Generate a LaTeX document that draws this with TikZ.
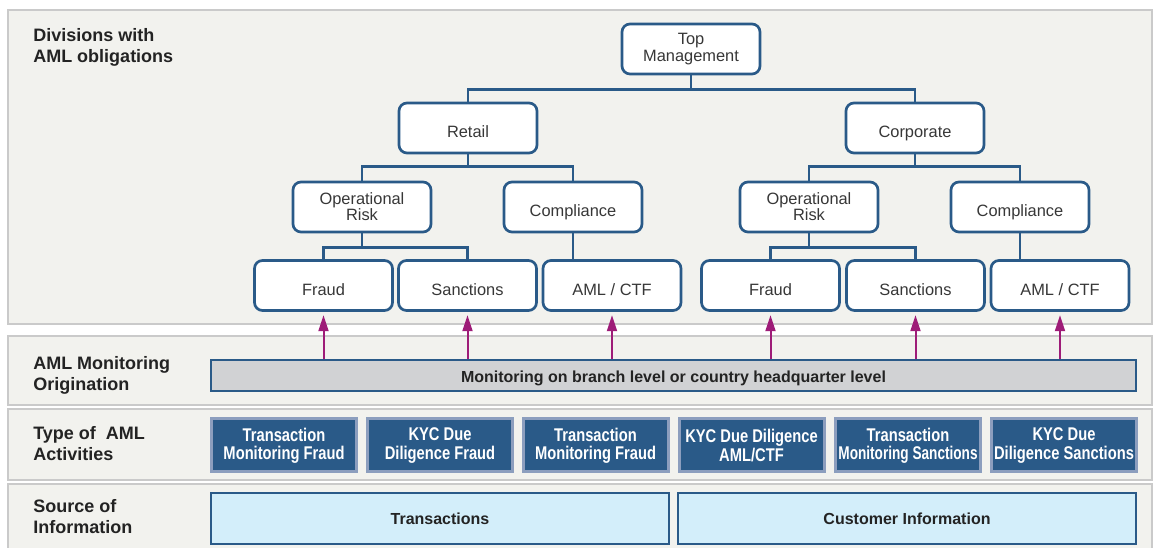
\documentclass[tikz,border=0pt]{standalone}
\usepackage{fontspec}
\setmainfont{Liberation Sans}
\newfontfamily\condfont{Liberation Sans}[FakeStretch=0.8]
\newfontfamily\condfontx{Liberation Sans}[FakeStretch=0.74]
\usetikzlibrary{arrows.meta}

\definecolor{navy}{RGB}{42,90,136}
\definecolor{panelfill}{RGB}{242,242,238}
\definecolor{panelline}{RGB}{202,202,202}
\definecolor{arrowmag}{RGB}{158,28,120}
\definecolor{barfill}{RGB}{209,210,212}
\definecolor{skyfill}{RGB}{211,238,250}
\definecolor{actline}{RGB}{140,158,190}
\definecolor{labeltxt}{RGB}{35,35,35}
\definecolor{boxtxt}{RGB}{55,55,55}

\begin{document}
\begin{tikzpicture}[x=0.75pt,y=-0.75pt,
  panel/.style={draw=panelline,fill=panelfill,line width=1.5pt},
  rowlabel/.style={anchor=west,align=left,inner sep=0pt,text=labeltxt,
    font=\fontsize{13.5}{15.4}\selectfont\bfseries},
  org/.style={draw=navy,fill=white,line width=2pt,rounded corners=6pt,
    minimum width=103.5pt,minimum height=37.5pt,inner sep=0pt,align=center,
    text=boxtxt,font=\fontsize{12.3}{12.2}\selectfont},
  oneline/.style={org,text height=15pt,text depth=0pt},
  link/.style={draw=navy,line width=1.9pt},
  arr/.style={draw=arrowmag,line width=1.5pt,shorten >=2.5pt,
    -{Triangle[length=12pt,width=7.5pt]}},
  bar/.style={draw=navy,fill=barfill,line width=1.5pt,minimum width=693.75pt,
    minimum height=23.25pt,inner sep=0pt,text=labeltxt,text height=10pt,text depth=0pt,
    font=\fontsize{12}{14}\selectfont\bfseries},
  activity/.style={draw=actline,fill=navy,line width=2.25pt,minimum width=108.75pt,
    minimum height=39.75pt,inner sep=0pt,align=center,text=white,
    font=\fontsize{13.8}{13.7}\selectfont\condfont\bfseries},
  source/.style={draw=navy,fill=skyfill,line width=1.9pt,minimum width=343.5pt,
    minimum height=38.25pt,inner sep=0pt,text=labeltxt,
    font=\fontsize{12}{14}\selectfont\bfseries}]

\clip (0,0) rectangle (1154,548);
\fill[white] (0,0) rectangle (1154,548);

% row panels
\draw[panel] (8,10) rectangle (1152,324);
\draw[panel] (8,336) rectangle (1152,405);
\draw[panel] (8,409) rectangle (1152,480);
\draw[panel] (8,484) rectangle (1152,560);

% row headings
\node[rowlabel] (lbl1) at (33,48) {\strut Divisions with\\\strut AML obligations};
\node[rowlabel] (lbl2) at (33,376) {\strut AML Monitoring\\\strut Origination};
\node[rowlabel] (lbl3) at (33,446) {\strut Type of\ \ AML\\\strut Activities};
\node[rowlabel] (lbl4) at (33,519) {\strut Source of\\\strut Information};

% organisation tree
\node[org] (top) at (691,49) {Top\\Management};
\node[oneline] (retail) at (468,128) {Retail};
\node[oneline] (corporate) at (915,128) {Corporate};
\node[org] (opL) at (362,207) {Operational\\Risk};
\node[oneline] (compL) at (573,207) {Compliance};
\node[org] (opR) at (809,207) {Operational\\Risk};
\node[oneline] (compR) at (1020,207) {Compliance};
\node[oneline] (fraudL) at (323.5,285.5) {Fraud};
\node[oneline] (sancL) at (467.5,285.5) {Sanctions};
\node[oneline] (amlL) at (612,285.5) {AML / CTF};
\node[oneline] (fraudR) at (770.5,285.5) {Fraud};
\node[oneline] (sancR) at (915.5,285.5) {Sanctions};
\node[oneline] (amlR) at (1060,285.5) {AML / CTF};

\draw[link] (top.south) -- ++(0,14) -| (retail.north);
\draw[link] (top.south) -- ++(0,14) -| (corporate.north);
\draw[link] (retail.south) -- ++(0,12) -| (opL.north);
\draw[link] (retail.south) -- ++(0,12) -| (compL.north);
\draw[link] (corporate.south) -- ++(0,12) -| (opR.north);
\draw[link] (corporate.south) -- ++(0,12) -| (compR.north);
\draw[link] (opL.south) -- ++(0,14) -| (fraudL.north);
\draw[link] (opL.south) -- ++(0,14) -| (sancL.north);
\draw[link] (compL.south) -- (compL.south |- amlL.north);
\draw[link] (opR.south) -- ++(0,14) -| (fraudR.north);
\draw[link] (opR.south) -- ++(0,14) -| (sancR.north);
\draw[link] (compR.south) -- (compR.south |- amlR.north);

% monitoring origination
\node[bar] (bar) at (673.5,376) {Monitoring on branch level or country headquarter level};
\foreach \n in {fraudL,sancL,amlL,fraudR,sancR,amlR}
  \draw[arr] (\n.south |- bar.north) -- (\n.south);

% AML activity types
\node[activity] (act1) at (284,445.5) {Transaction\\Monitoring Fraud};
\node[activity] (act2) at (440,445.5) {KYC Due\\Diligence Fraud};
\node[activity] (act3) at (595.5,445.5) {Transaction\\Monitoring Fraud};
\node[activity] (act4) at (751.5,445.5) {KYC Due Diligence\\AML/CTF};
\node[activity] (act5) at (908,445.5) {Transaction\\{\condfontx Monitoring Sanctions}};
\node[activity] (act6) at (1064,445.5) {KYC Due\\Diligence Sanctions};

% information sources
\node[source] (src1) at (440,518.5) {Transactions};
\node[source] (src2) at (907,518.5) {Customer Information};
\end{tikzpicture}
\end{document}
